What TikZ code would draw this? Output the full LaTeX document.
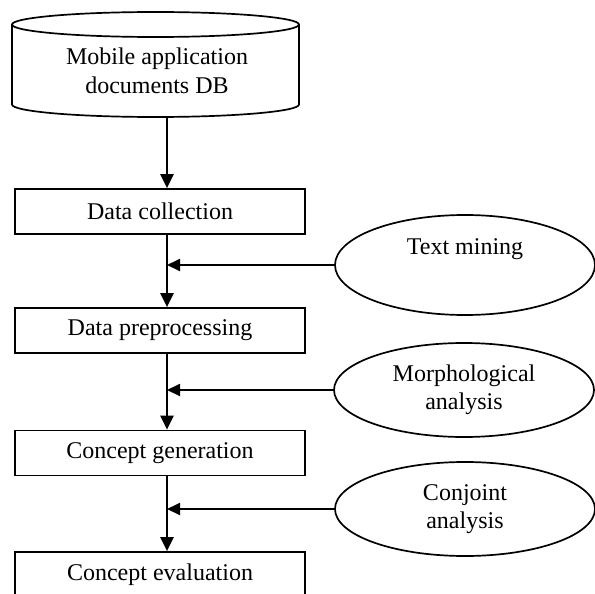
\documentclass[tikz,border=0pt]{standalone}
\usepackage{fontspec}
\setmainfont{Liberation Serif}
\usetikzlibrary{shapes.geometric,arrows.meta}
\begin{document}
\begin{tikzpicture}[x=1pt,y=-1pt,
  every node/.style={font=\fontsize{24}{28.5}\selectfont},
  procbox/.style={draw,line width=1.7pt,rectangle,minimum width=290pt,minimum height=45pt,inner sep=0pt},
  tool/.style={draw,line width=1.7pt,ellipse,minimum width=260pt,inner sep=0pt,align=center},
  flow/.style={line width=2.4pt,-{Triangle[length=14pt,width=13pt]}},
  feed/.style={line width=1.8pt,-{Triangle[length=13pt,width=12pt]}}]
\clip (0,0) rectangle (595,594);
% cylinder (database)
\draw[line width=1.7pt] (12,24.5) -- (12,104.5) arc[start angle=180,end angle=0,x radius=143.5,y radius=12.5] -- (299,24.5);
\draw[line width=1.7pt] (155.5,24.5) ellipse[x radius=143.5,y radius=12.5];
\node[align=center] (db) at (157,71) {Mobile application\\documents DB};
\coordinate (dbbottom) at (167,117);
\coordinate (spine) at (167,0);
% process boxes
\node[procbox] (dc) at (160,211.5) {Data collection};
\node[procbox] (dp) at (160,330.5) {Data preprocessing};
\node[procbox] (cg) at (160,453) {Concept generation};
\node[procbox] (ce) at (160,574.5) {Concept evaluation};
% tool ellipses
\node[tool,minimum height=100pt] (tm) at (465,265) {Text mining\\\strut};
\node[tool,minimum height=94pt] (ma) at (464,390) {Morphological\\analysis};
\node[tool,minimum height=94pt] (ca) at (465,509) {Conjoint\\analysis};
% main flow
\draw[flow] (dbbottom) -- (dc.north -| spine);
\draw[flow] (dc.south -| spine) -- (dp.north -| spine);
\draw[flow] (dp.south -| spine) -- (cg.north -| spine);
\draw[flow] (cg.south -| spine) -- (ce.north -| spine);
% feeds
\draw[feed] (tm.west) -- (tm.west -| spine);
\draw[feed] (ma.west) -- (ma.west -| spine);
\draw[feed] (ca.west) -- (ca.west -| spine);
\end{tikzpicture}
\end{document}
